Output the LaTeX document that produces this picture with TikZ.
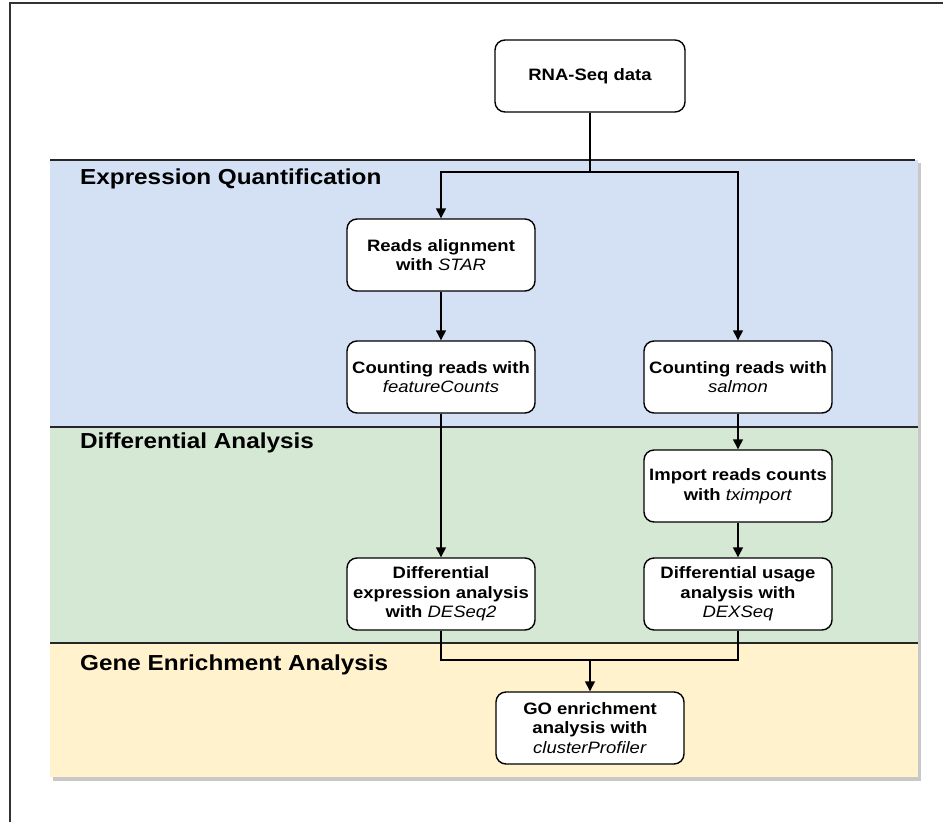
\documentclass[tikz,border=0pt]{standalone}
\usepackage{fontspec}
\setmainfont[FakeStretch=1.12]{Liberation Sans}
\usetikzlibrary{arrows.meta}
\definecolor{bandblue}{HTML}{D4E1F5}
\definecolor{bandgreen}{HTML}{D5E8D4}
\definecolor{bandyellow}{HTML}{FFF2CC}
\definecolor{shadowgray}{HTML}{C8C8C8}
\tikzset{
  box/.style={draw=black, line width=1.4pt, rounded corners=10pt, fill=white,
    minimum width=188pt, minimum height=72pt, align=center, inner sep=2pt,
    font=\fontsize{16.5}{19.5}\selectfont\bfseries},
  seclabel/.style={anchor=west, inner sep=0pt, font=\fontsize{21.7}{24}\selectfont\bfseries},
  conn/.style={draw=black, line width=1.4pt},
  arr/.style={conn, -{Triangle[length=10pt,width=10pt]}},
  bandline/.style={draw=black!85, line width=2pt}
}
\newcommand{\tl}[1]{\textit{\mdseries #1}}
\begin{document}
\begin{tikzpicture}[x=1pt,y=-1pt]
\useasboundingbox (0,0) rectangle (943,822);
% outer frame
\draw[line width=2pt, black!80] (10,830) -- (10,3) -- (950,3);
% shadows
\fill[shadowgray] (53,163) rectangle (921,781);
% bands
\fill[bandblue] (50,160) rectangle (918,427);
\fill[bandgreen] (50,427) rectangle (918,643);
\fill[bandyellow] (50,643) rectangle (918,777);
\draw[bandline] (50,160) -- (915,160);
\draw[bandline] (50,427) -- (918,427);
\draw[bandline] (50,643) -- (918,643);
% section labels
\node[seclabel] (lq) at (80,179) {Expression Quantification};
\node[seclabel] (ld) at (80,443) {Differential Analysis};
\node[seclabel] (lg) at (80,665) {Gene Enrichment Analysis};
% boxes
\node[box, minimum width=190pt] (rna) at (590,76) {RNA-Seq data};
\node[box] (star) at (441,255) {Reads alignment\\with \tl{STAR}};
\node[box] (fc) at (441,377) {Counting reads with\\\tl{featureCounts}};
\node[box] (sal) at (738,377) {Counting reads with\\\tl{salmon}};
\node[box] (txi) at (738,486) {Import reads counts\\with \tl{tximport}};
\node[box] (deseq) at (441,594) {Differential\\expression analysis\\with \tl{DESeq2}};
\node[box] (dex) at (738,594) {Differential usage\\analysis with\\\tl{DEXSeq}};
\node[box] (go) at (590,728) {GO enrichment\\analysis with\\\tl{clusterProfiler}};
% connectors
\coordinate (split) at (590,172);
\coordinate (merge) at (590,660);
\draw[conn] (rna.south) -- (split);
\draw[arr] (split) -| (star.north);
\draw[arr] (split) -| (sal.north);
\draw[arr] (star) -- (fc);
\draw[arr] (fc) -- (deseq);
\draw[arr] (sal) -- (txi);
\draw[arr] (txi) -- (dex);
\draw[conn] (deseq.south) |- (merge);
\draw[conn] (dex.south) |- (merge);
\draw[arr] (merge) -- (go.north);
\end{tikzpicture}
\end{document}
